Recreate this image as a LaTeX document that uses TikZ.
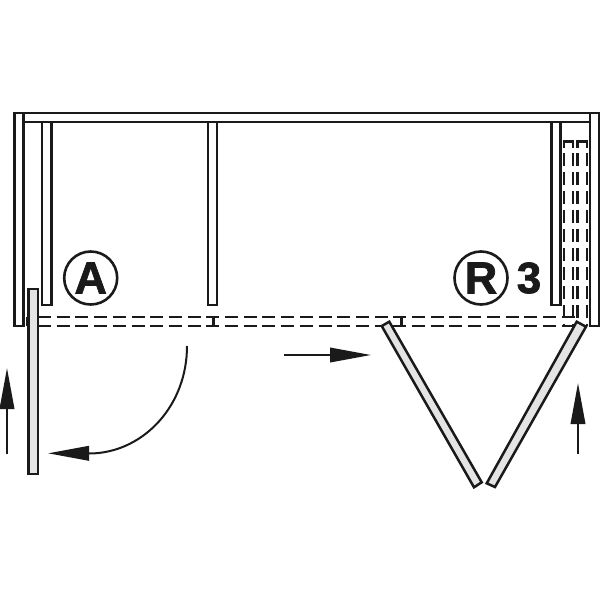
\documentclass[tikz,border=0pt]{standalone}
\usepackage{fontspec}
\setmainfont{Liberation Sans}
\newfontfamily\heavyface[FakeBold=1.6]{Liberation Sans Bold}
\usetikzlibrary{arrows.meta}
\definecolor{ink}{HTML}{1A1A1A}
\definecolor{door}{HTML}{E4E4E4}
\tikzset{
  x=1pt,y=-1pt,
  wall/.style={draw=ink,line width=2.5pt,fill=white,line join=miter},
  doorleaf/.style={draw=ink,line width=2.5pt,fill=door,line join=miter},
  hidden/.style={draw=ink,line width=2.2pt,dash pattern=on 13pt off 5.7pt},
  hiddenv/.style={draw=ink,line width=2.2pt,dash pattern=on 13pt off 6pt},
  solidedge/.style={draw=ink,line width=2.2pt},
  stem/.style={draw=ink,line width=3pt},
  move/.style={draw=ink,line width=2pt,-{Triangle[length=41pt,width=14.5pt]}},
  badge/.style={circle,draw=ink,line width=2.6pt,minimum size=53pt,inner sep=0pt,font=\fontsize{45}{45}\heavyface,text=ink},
  numeral/.style={inner sep=0pt,font=\fontsize{44}{44}\heavyface,text=ink}
}
\begin{document}
\begin{tikzpicture}
\useasboundingbox (0,0) rectangle (600,600);
% carcase
\draw[wall] (14.5,113) rectangle (23.5,326);
\draw[wall] (589.8,113) rectangle (599,326);
\draw[wall] (23.5,113) rectangle (589.8,122);
% partitions
\draw[wall] (42,122) rectangle (51.5,305);
\draw[wall] (208,122) rectangle (217,305);
\draw[wall] (551.7,122) rectangle (560.7,305);
% folded leaves in the compartment
\draw[solidedge] (563.7,148) -- (563.7,141.5) -- (572.8,141.5) -- (572.8,148);
\draw[solidedge] (577.5,148) -- (577.5,141.5) -- (587,141.5) -- (587,148);
\foreach \vx in {563.7,572.8,577.5,587}{
  \draw[hiddenv] (\vx,153) -- (\vx,326);
}
% track
\draw[hidden] (38,317) -- (575,317);
\draw[hidden] (38,326) -- (575,326);
% guides
\draw[stem] (213,317) -- (213,326);
\draw[stem] (401,317) -- (401,326);
% door at left
\fill[ink] (26,317) rectangle (29,326);
\draw[doorleaf] (28.7,289) rectangle (38,474);
% bifold
\draw[doorleaf] (381.7,326) -- (389.3,321.7) -- (481.7,482.3) -- (474,487.3) -- cycle;
\draw[doorleaf] (576.7,321.7) -- (586,326.7) -- (495,487) -- (486.7,483.3) -- cycle;
% badges
\node[badge] (badgeA) at (90.7,278) {A};
\node[badge] (badgeR) at (481,278) {R};
\node[numeral] (three) at (529,278) {3};
% arrows
\coordinate (upLa) at (7,454);
\coordinate (upLb) at (7,368);
\coordinate (upRa) at (578,454);
\coordinate (upRb) at (578,383);
\coordinate (rightA) at (284,355);
\coordinate (rightB) at (371,355);
\coordinate (curveA) at (187,346);
\coordinate (curveB) at (95,453.3);
\coordinate (curveC) at (48,453.3);
\draw[move] (upLa) -- (upLb);
\draw[move] (upRa) -- (upRb);
\draw[move] (rightA) -- (rightB);
\draw[move] (curveA) .. controls (187,405) and (145,450) .. (curveB) -- (curveC);
\end{tikzpicture}
\end{document}
